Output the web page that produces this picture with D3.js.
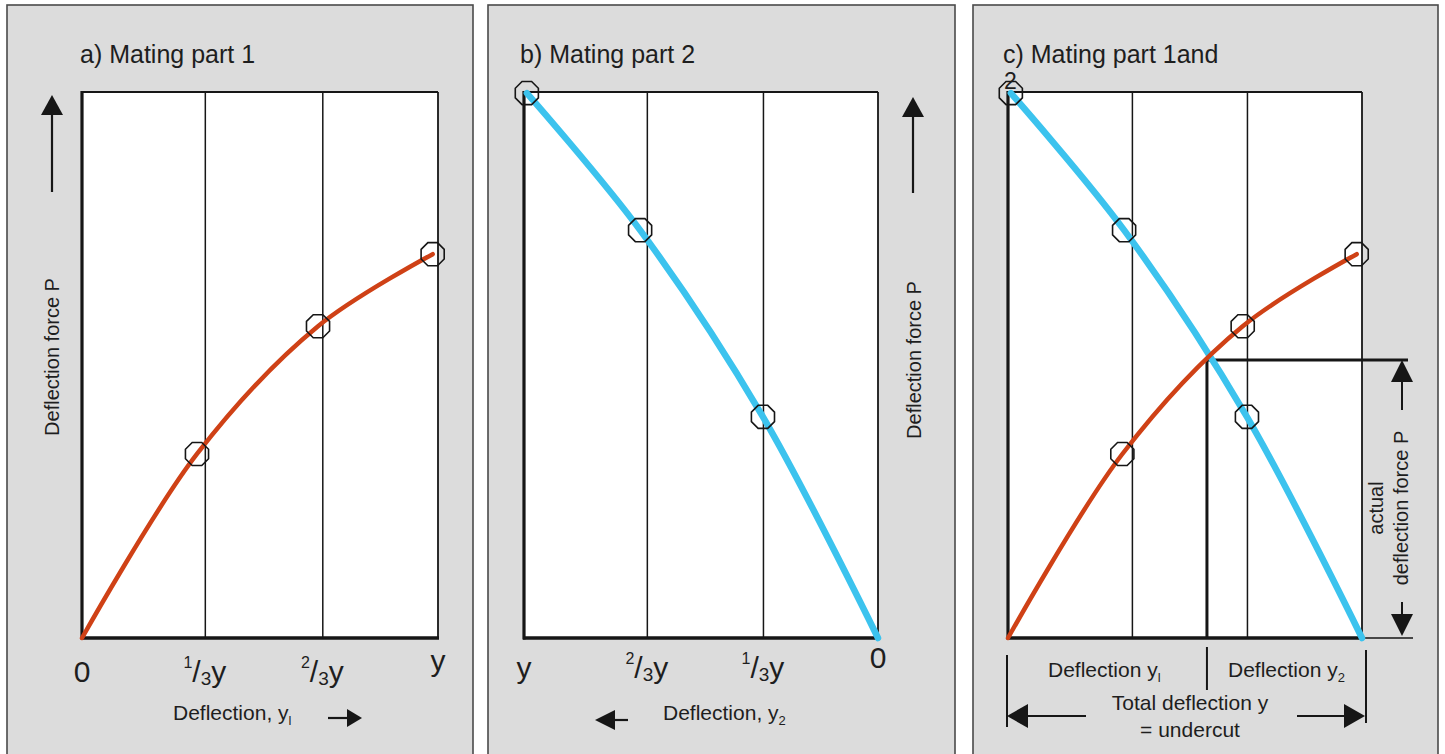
<!DOCTYPE html>
<html><head><meta charset="utf-8">
<script src="https://cdn.jsdelivr.net/npm/d3@7"></script>
<style>
body{margin:0;background:#fff}
text{font-family:"Liberation Sans",Arial,sans-serif;fill:#1e1e1e}
</style>
</head><body>
<svg id="chart" width="1445" height="754"></svg>
<script>
// ---------------- DATA ----------------
const panelTitles = ["a) Mating part 1", "b) Mating part 2", "c) Mating part 1and"];
const titleWrap = "2";
// vertical grid lines, as fraction of full deflection y
const gridA = [0.345, 0.675];
const gridB = [0.653, 0.325];          // in y2 units (b axis runs y -> 0)
const gridC = [0.35, 0.675];
// x tick labels
const ticksA = [0, 0.345, 0.675, 1];
const tickLabelsA = ["0", "1/3y", "2/3y", "y"];
const ticksB = [1, 0.653, 0.325, 0];
const tickLabelsB = ["y", "2/3y", "1/3y", "0"];
// Mating part 1 : deflection y1 (fraction) vs force P (fraction)
const part1Deflection = [0, 0.323, 0.663, 0.985];
const part1Force      = [0, 0.337, 0.571, 0.703];
// Mating part 2 : deflection y2 (fraction) vs force P (fraction)
const part2Deflection = [0, 0.325, 0.672, 0.992];
const part2Force      = [0, 0.405, 0.747, 0.998];
// equilibrium (intersection) in panel c
const equilibriumDeflection = 0.562;
const equilibriumForce = 0.509;
const axisTitles = ["Deflection, y", "Deflection, y"];
const axisSubs = ["l", "2"];
const forceLabel = "Deflection force P";

// ---------------- LAYOUT ----------------
const svg = d3.select("#chart");
const RED = "#cf4116", BLUE = "#3cc3ee", INK = "#161616";
const panels = [
  {bx: 7, bw: 466, plot: [82, 438]},
  {bx: 488, bw: 467, plot: [524, 878]},
  {bx: 973, bw: 465, plot: [1008, 1362]}
];
const y = d3.scaleLinear().domain([0, 1]).range([638, 92]);

panels.forEach(p => {
  svg.append("rect").attr("x", p.bx).attr("y", 5).attr("width", p.bw).attr("height", 770)
    .attr("fill", "#dcdcdc").attr("stroke", "#4a4a4a").attr("stroke-width", 1.6);
});

const octagon = (cx, cy, r) => {
  const pts = d3.range(8).map(k => {
    const a = Math.PI / 8 + k * Math.PI / 4;
    return [cx + r * Math.cos(a), cy + r * Math.sin(a)];
  });
  return "M" + pts.map(p => p.join(",")).join("L") + "Z";
};

function arrowHead(g, tx, ty, dir, len, hw) {
  let pts;
  if (dir === "up") pts = [[tx, ty], [tx - hw, ty + len], [tx + hw, ty + len]];
  if (dir === "down") pts = [[tx, ty], [tx - hw, ty - len], [tx + hw, ty - len]];
  if (dir === "left") pts = [[tx, ty], [tx + len, ty - hw], [tx + len, ty + hw]];
  if (dir === "right") pts = [[tx, ty], [tx - len, ty - hw], [tx - len, ty + hw]];
  g.append("path").attr("d", "M" + pts.map(p => p.join(",")).join("L") + "Z").attr("fill", INK);
}
function line(g, x1, y1, x2, y2, w) {
  g.append("line").attr("x1", x1).attr("y1", y1).attr("x2", x2).attr("y2", y2)
    .attr("stroke", INK).attr("stroke-width", w);
}

function frame(g, x) {
  const [xl, xr] = d3.extent(x.range());
  const [yb, yt] = y.range();
  g.append("rect").attr("x", xl).attr("y", yt).attr("width", xr - xl).attr("height", yb - yt).attr("fill", "#fff");
  return {xl, xr, yt, yb};
}
function grid(g, x, vals) {
  const [yb, yt] = y.range();
  const ax = d3.axisBottom(x).tickValues(vals).tickSize(-(yb - yt)).tickFormat("");
  const gg = g.append("g").attr("transform", `translate(0,${yb})`).call(ax);
  gg.select(".domain").remove();
  gg.selectAll("line").attr("stroke", INK).attr("stroke-width", 1.5);
}
function border(g, f) {
  line(g, f.xl, f.yt, f.xr, f.yt, 2);
  line(g, f.xr, f.yt, f.xr, f.yb, 1.8);
  line(g, f.xl, f.yt - 1, f.xl, f.yb + 1.5, 3.2);
  line(g, f.xl - 1, f.yb, f.xr + 1, f.yb, 3.5);
}
function tickText(g, x, vals, labels, baseFor) {
  vals.forEach((v, i) => {
    const lab = labels[i];
    const t = g.append("text").attr("x", x(v)).attr("y", baseFor(i)).attr("text-anchor", "middle")
      .attr("font-size", 30);
    if (lab.includes("/")) {
      t.append("tspan").attr("font-size", 16).attr("dy", -14).text(lab[0]);
      t.append("tspan").attr("dy", 14).text("/");
      t.append("tspan").attr("font-size", 19).attr("dy", 3).text(lab[2]);
      t.append("tspan").attr("dy", -3).text(lab.slice(3));
    } else t.text(lab);
  });
}
function subText(g, x, yy, main, sub, size, anchor) {
  const t = g.append("text").attr("x", x).attr("y", yy).attr("font-size", size).attr("text-anchor", anchor || "start");
  t.append("tspan").text(main);
  t.append("tspan").attr("font-size", size * 0.62).attr("dy", 5).text(sub);
  return t;
}
function rotText(g, x, yy, txt, size) {
  g.append("text").attr("transform", `translate(${x},${yy}) rotate(-90)`).attr("text-anchor", "middle")
    .attr("font-size", size).text(txt);
}
const pts = (ds, fs) => ds.map((d, i) => ({d, f: fs[i]}));
function curve(g, x, data, color, w) {
  const gen = d3.line().x(d => x(d.d)).y(d => y(d.f)).curve(d3.curveCatmullRom.alpha(0.5));
  g.append("path").attr("d", gen(data)).attr("fill", "none").attr("stroke", color)
    .attr("stroke-width", w).attr("stroke-linecap", "round");
}
function markers(g, x, data) {
  data.forEach(d => g.append("path").attr("d", octagon(x(d.d), y(d.f), 12.5))
    .attr("fill", "none").attr("stroke", INK).attr("stroke-width", 1.6));
}

const p1 = pts(part1Deflection, part1Force);
const p2 = pts(part2Deflection, part2Force);
const TITLE = 25;

// ---------- Panel a ----------
{
  const g = svg.append("g");
  const x = d3.scaleLinear().domain([0, 1]).range(panels[0].plot);
  const f = frame(g, x);
  grid(g, x, gridA);
  border(g, f);
  curve(g, x, p1, RED, 4.5);
  markers(g, x, p1.slice(1));
  g.append("text").attr("x", 80).attr("y", 63).attr("font-size", TITLE).text(panelTitles[0]);
  tickText(g, x, ticksA, tickLabelsA, i => i === 3 ? 671 : 682);
  subText(g, 173, 720, axisTitles[0], axisSubs[0], 21);
  line(g, 328, 718, 350, 718, 2.2); arrowHead(g, 362, 718, "right", 15, 9);
  rotText(g, 59, 357, forceLabel, 20);
  line(g, 52, 112, 52, 192, 2.2); arrowHead(g, 52, 95, "up", 20, 11);
}
// ---------- Panel b ----------
{
  const g = svg.append("g");
  const x = d3.scaleLinear().domain([1, 0]).range(panels[1].plot);
  const f = frame(g, x);
  grid(g, x, gridB);
  border(g, f);
  curve(g, x, p2, BLUE, 6.5);
  markers(g, x, p2.slice(1));
  g.append("text").attr("x", 520).attr("y", 63).attr("font-size", TITLE).text(panelTitles[1]);
  tickText(g, x, ticksB, tickLabelsB, i => i === 3 ? 668 : 678);
  subText(g, 663, 720, axisTitles[1], axisSubs[1], 21);
  line(g, 612, 720, 628, 720, 2.2); arrowHead(g, 595, 720, "left", 20, 10);
  rotText(g, 921, 360, forceLabel, 20);
  line(g, 913, 112, 913, 193, 2.2); arrowHead(g, 913, 97, "up", 20, 11);
}
// ---------- Panel c ----------
{
  const g = svg.append("g");
  const x = d3.scaleLinear().domain([0, 1]).range(panels[2].plot);
  const f = frame(g, x);
  grid(g, x, gridC);
  const ex = x(equilibriumDeflection), ey = y(equilibriumForce);
  line(g, ex, ey, ex, f.yb, 3);
  line(g, ex, ey, 1408, ey, 3);
  line(g, f.xr, f.yb, 1413, f.yb, 1.6);
  border(g, f);
  const p2c = p2.map(d => ({d: 1 - d.d, f: d.f}));
  curve(g, x, p2c, BLUE, 6.5);
  curve(g, x, p1, RED, 4.5);
  markers(g, x, p2c.slice(1));
  markers(g, x, p1.slice(1));
  g.append("text").attr("x", 1003).attr("y", 63).attr("font-size", TITLE).text(panelTitles[2]);
  g.append("text").attr("x", 1004).attr("y", 89).attr("font-size", 23).text(titleWrap);
  arrowHead(g, 1402, ey, "up", 22, 11);
  line(g, 1402, ey + 20, 1402, 410, 2);
  line(g, 1402, 602, 1402, 618, 2);
  arrowHead(g, 1402, f.yb - 2, "down", 22, 11);
  rotText(g, 1383, 508, "actual", 20);
  rotText(g, 1408, 508, "deflection force P", 20);
  line(g, 1007, 655, 1007, 727, 2);
  line(g, ex, 647, ex, 690, 2);
  line(g, 1366, 650, 1366, 723, 2);
  subText(g, 1048, 677, "Deflection y", "l", 21);
  subText(g, 1228, 677, "Deflection y", "2", 21);
  g.append("text").attr("x", 1190).attr("y", 710).attr("font-size", 21).attr("text-anchor", "middle").text("Total deflection y");
  g.append("text").attr("x", 1190).attr("y", 737).attr("font-size", 21).attr("text-anchor", "middle").text("= undercut");
  arrowHead(g, 1007, 716, "left", 21, 12);
  line(g, 1026, 716, 1086, 716, 2.2);
  arrowHead(g, 1365, 716, "right", 21, 12);
  line(g, 1297, 716, 1346, 716, 2.2);
}
</script>
</body></html>
